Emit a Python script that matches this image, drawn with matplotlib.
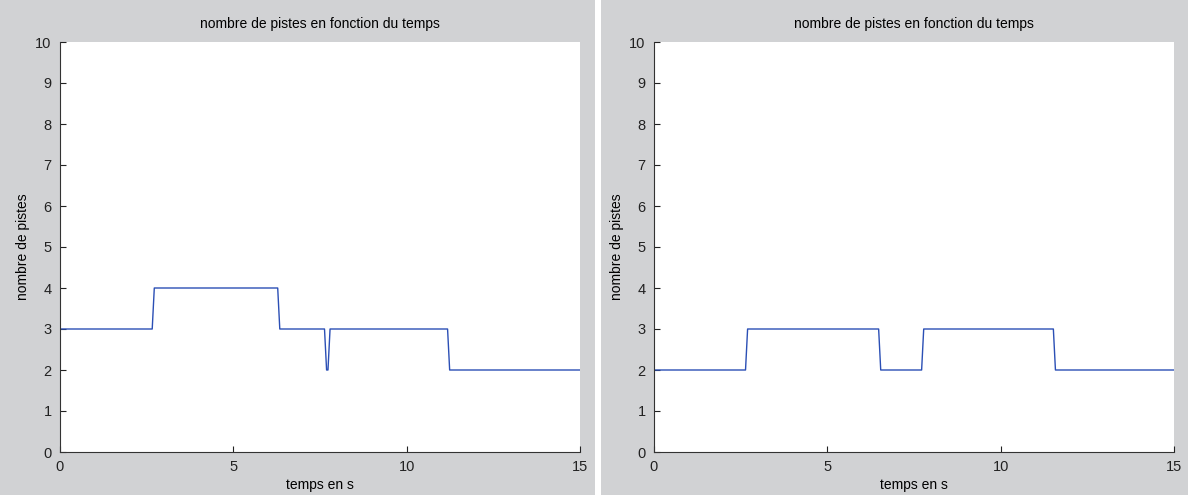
import matplotlib.pyplot as plt
from matplotlib.patches import Rectangle

# courbe de gauche
t_gauche = [0, 2.66, 2.72, 6.28, 6.34, 7.63, 7.69, 7.73, 7.79, 11.18, 11.24, 15]
n_gauche = [3, 3, 4, 4, 3, 3, 2, 2, 3, 3, 2, 2]

# courbe de droite
t_droite = [0, 2.64, 2.70, 6.48, 6.54, 7.72, 7.78, 11.52, 11.58, 15]
n_droite = [2, 2, 3, 3, 2, 2, 3, 3, 2, 2]

xticks = [0, 5, 10, 15]
yticks = list(range(0, 11))

W, H = 1188, 495
gris = '#d1d2d4'
bleu = '#2b4fb5'

plt.rcParams['font.family'] = ['Liberation Sans', 'DejaVu Sans']
fig = plt.figure(figsize=(W / 100, H / 100), dpi=100, facecolor='white')

# fonds gris des deux fenetres
fig.patches.append(Rectangle((0, 0), 595 / W, 1, transform=fig.transFigure,
                             facecolor=gris, edgecolor='none', zorder=-1))
fig.patches.append(Rectangle((601 / W, 0), (W - 601) / W, 1, transform=fig.transFigure,
                             facecolor=gris, edgecolor='none', zorder=-1))

panneaux = [(60, t_gauche, n_gauche), (654, t_droite, n_droite)]
for x0, t, n in panneaux:
    ax = fig.add_axes([x0 / W, 43 / H, 520 / W, 410 / H])
    ax.set_facecolor('white')
    ax.plot(t, n, color=bleu, lw=1)
    ax.set_xlim(0, 15)
    ax.set_ylim(0, 10)
    ax.set_xticks(xticks)
    ax.set_yticks(yticks)
    ax.spines['top'].set_visible(False)
    ax.spines['right'].set_visible(False)
    for s in ['left', 'bottom']:
        ax.spines[s].set_color('#333333')
        ax.spines[s].set_linewidth(0.8)
    ax.tick_params(direction='in', length=4, width=0.8, labelsize=10.5, colors='#222222')
    ax.tick_params(axis='x', pad=6)
    ax.tick_params(axis='y', pad=6)
    ax.set_title('nombre de pistes en fonction du temps', fontsize=10, pad=10)
    ax.set_xlabel('temps en s', fontsize=10, labelpad=3)
    ax.set_ylabel('nombre de pistes', fontsize=10, labelpad=4)

fig.savefig('out.png', dpi=100, facecolor=fig.get_facecolor())
